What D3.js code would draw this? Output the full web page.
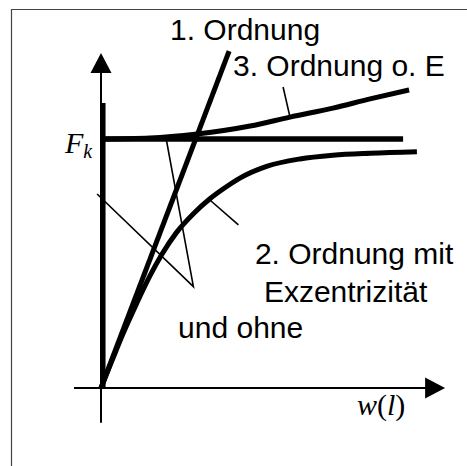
<!DOCTYPE html>
<html lang="de">
<head>
<meta charset="utf-8">
<title>Ordnungen</title>
<script src="https://cdn.jsdelivr.net/npm/d3@7"></script>
<style>
  body { margin: 0; background: #fff; }
  .lbl { font-family: "Liberation Sans", Arial, sans-serif; font-size: 30px; fill: #000; }
  .sym { font-family: "Liberation Serif", "Times New Roman", serif; fill: #000; }
</style>
</head>
<body>
<script>
// w-scale: w = 1 at end of the F_k line, F = 1 at F_k
var ord1W = [0, 0.427];
var ord1F = [0, 1.353];

// 2. Ordnung ohne Exzentrizität: vertical branch and F_k line
var ord2vW = [0, 0];
var ord2vF = [0, 1.145];
var ord2hW = [0, 1.007];
var ord2hF = [1, 1];

// 2. Ordnung mit Exzentrizität
var ord2eW = [0, 0.036, 0.074, 0.119, 0.163, 0.202, 0.252, 0.308, 0.363, 0.408, 0.463, 0.552, 0.663, 0.773, 0.897, 1.053];
var ord2eF = [0, 0.108, 0.22, 0.34, 0.45, 0.535, 0.625, 0.7, 0.76, 0.8, 0.843, 0.89, 0.92, 0.935, 0.943, 0.949];

// 3. Ordnung ohne Exzentrizität
var ord3W = [0, 0.163, 0.32, 0.497, 0.63, 0.773, 0.897, 1.027];
var ord3F = [1, 1.004, 1.02, 1.052, 1.088, 1.124, 1.161, 1.197];

// thin pointer lines from labels to curves
var pointers = [
  [[0.607, 1.209], [0.63, 1.088]],
  [[0.363, 0.755], [0.458, 0.655]],
  [[-0.013, 0.779], [0.308, 0.407], [0.218, 0.996]]
];

var labels = ["1. Ordnung", "3. Ordnung o. E", "2. Ordnung mit", "Exzentrizität", "und ohne"];
var labelW = [0.23, 0.44, 0.513, 0.543, 0.257];
var labelF = [1.397, 1.253, 0.5, 0.346, 0.202];

var w = 467, h = 466;

var x = d3.scaleLinear().domain([0, 1]).range([101, 401]);
var y = d3.scaleLinear().domain([0, 1]).range([388, 139]);

var svg = d3.select("body").append("svg")
  .attr("width", w)
  .attr("height", h);

// frame (only left and top edge visible)
svg.append("path")
  .attr("d", "M11.5," + h + "V9.5H" + w)
  .attr("fill", "none")
  .attr("stroke", "#444")
  .attr("stroke-width", 1.2);

// axes
var xMin = -0.09, xMax = 1.147, yMin = -0.14, yMax = 1.345;
svg.append("line")
  .attr("x1", x(xMin)).attr("y1", y(0))
  .attr("x2", x(xMax) - 18).attr("y2", y(0))
  .attr("stroke", "#000").attr("stroke-width", 2);
svg.append("path")
  .attr("d", "M" + x(xMax) + "," + y(0) + "l-20,-10.5v21z")
  .attr("fill", "#000");

svg.append("line")
  .attr("x1", x(0)).attr("y1", y(yMin))
  .attr("x2", x(0)).attr("y2", y(yMax) + 18)
  .attr("stroke", "#000").attr("stroke-width", 2);
svg.append("path")
  .attr("d", "M" + x(0) + "," + y(yMax) + "l-10.5,20h21z")
  .attr("fill", "#000");

var line = d3.line()
  .x(function(d) { return x(d[0]); })
  .y(function(d) { return y(d[1]); });
var curve = d3.line()
  .x(function(d) { return x(d[0]); })
  .y(function(d) { return y(d[1]); })
  .curve(d3.curveMonotoneX);

var zip = function(a, b) { return a.map(function(v, i) { return [v, b[i]]; }); };

svg.append("path")
  .attr("d", line(zip(ord2vW, ord2vF)))
  .attr("transform", "translate(1.8,0)")
  .attr("fill", "none").attr("stroke", "#000").attr("stroke-width", 5.5);

svg.append("path")
  .attr("d", line(zip(ord2hW, ord2hF)))
  .attr("fill", "none").attr("stroke", "#000").attr("stroke-width", 5.5);

svg.append("path")
  .attr("d", line(zip(ord1W, ord1F)))
  .attr("fill", "none").attr("stroke", "#000").attr("stroke-width", 5);

svg.append("path")
  .attr("d", curve(zip(ord2eW, ord2eF)))
  .attr("fill", "none").attr("stroke", "#000").attr("stroke-width", 5);

svg.append("path")
  .attr("d", curve(zip(ord3W, ord3F)))
  .attr("fill", "none").attr("stroke", "#000").attr("stroke-width", 5);

svg.selectAll(".ptr")
  .data(pointers)
  .enter()
  .append("path")
  .attr("class", "ptr")
  .attr("d", line)
  .attr("fill", "none").attr("stroke", "#000").attr("stroke-width", 1.6);

svg.selectAll(".lbl")
  .data(labels)
  .enter()
  .append("text")
  .attr("class", "lbl")
  .attr("x", function(d, i) { return x(labelW[i]); })
  .attr("y", function(d, i) { return y(labelF[i]); })
  .text(function(d) { return d; });

// F_k
var fk = svg.append("text").attr("class", "sym")
  .attr("x", 65).attr("y", y(1) + 14).attr("font-size", 30);
fk.append("tspan").attr("font-style", "italic").text("F");
fk.append("tspan").attr("font-style", "italic").attr("font-size", 20).attr("dy", 5).text("k");

// w(l)
var wl = svg.append("text").attr("class", "sym")
  .attr("x", 357).attr("y", y(0) + 27).attr("font-size", 30);
wl.append("tspan").attr("font-style", "italic").text("w");
wl.append("tspan").text("(");
wl.append("tspan").attr("font-style", "italic").text("l");
wl.append("tspan").text(")");
</script>
</body>
</html>
